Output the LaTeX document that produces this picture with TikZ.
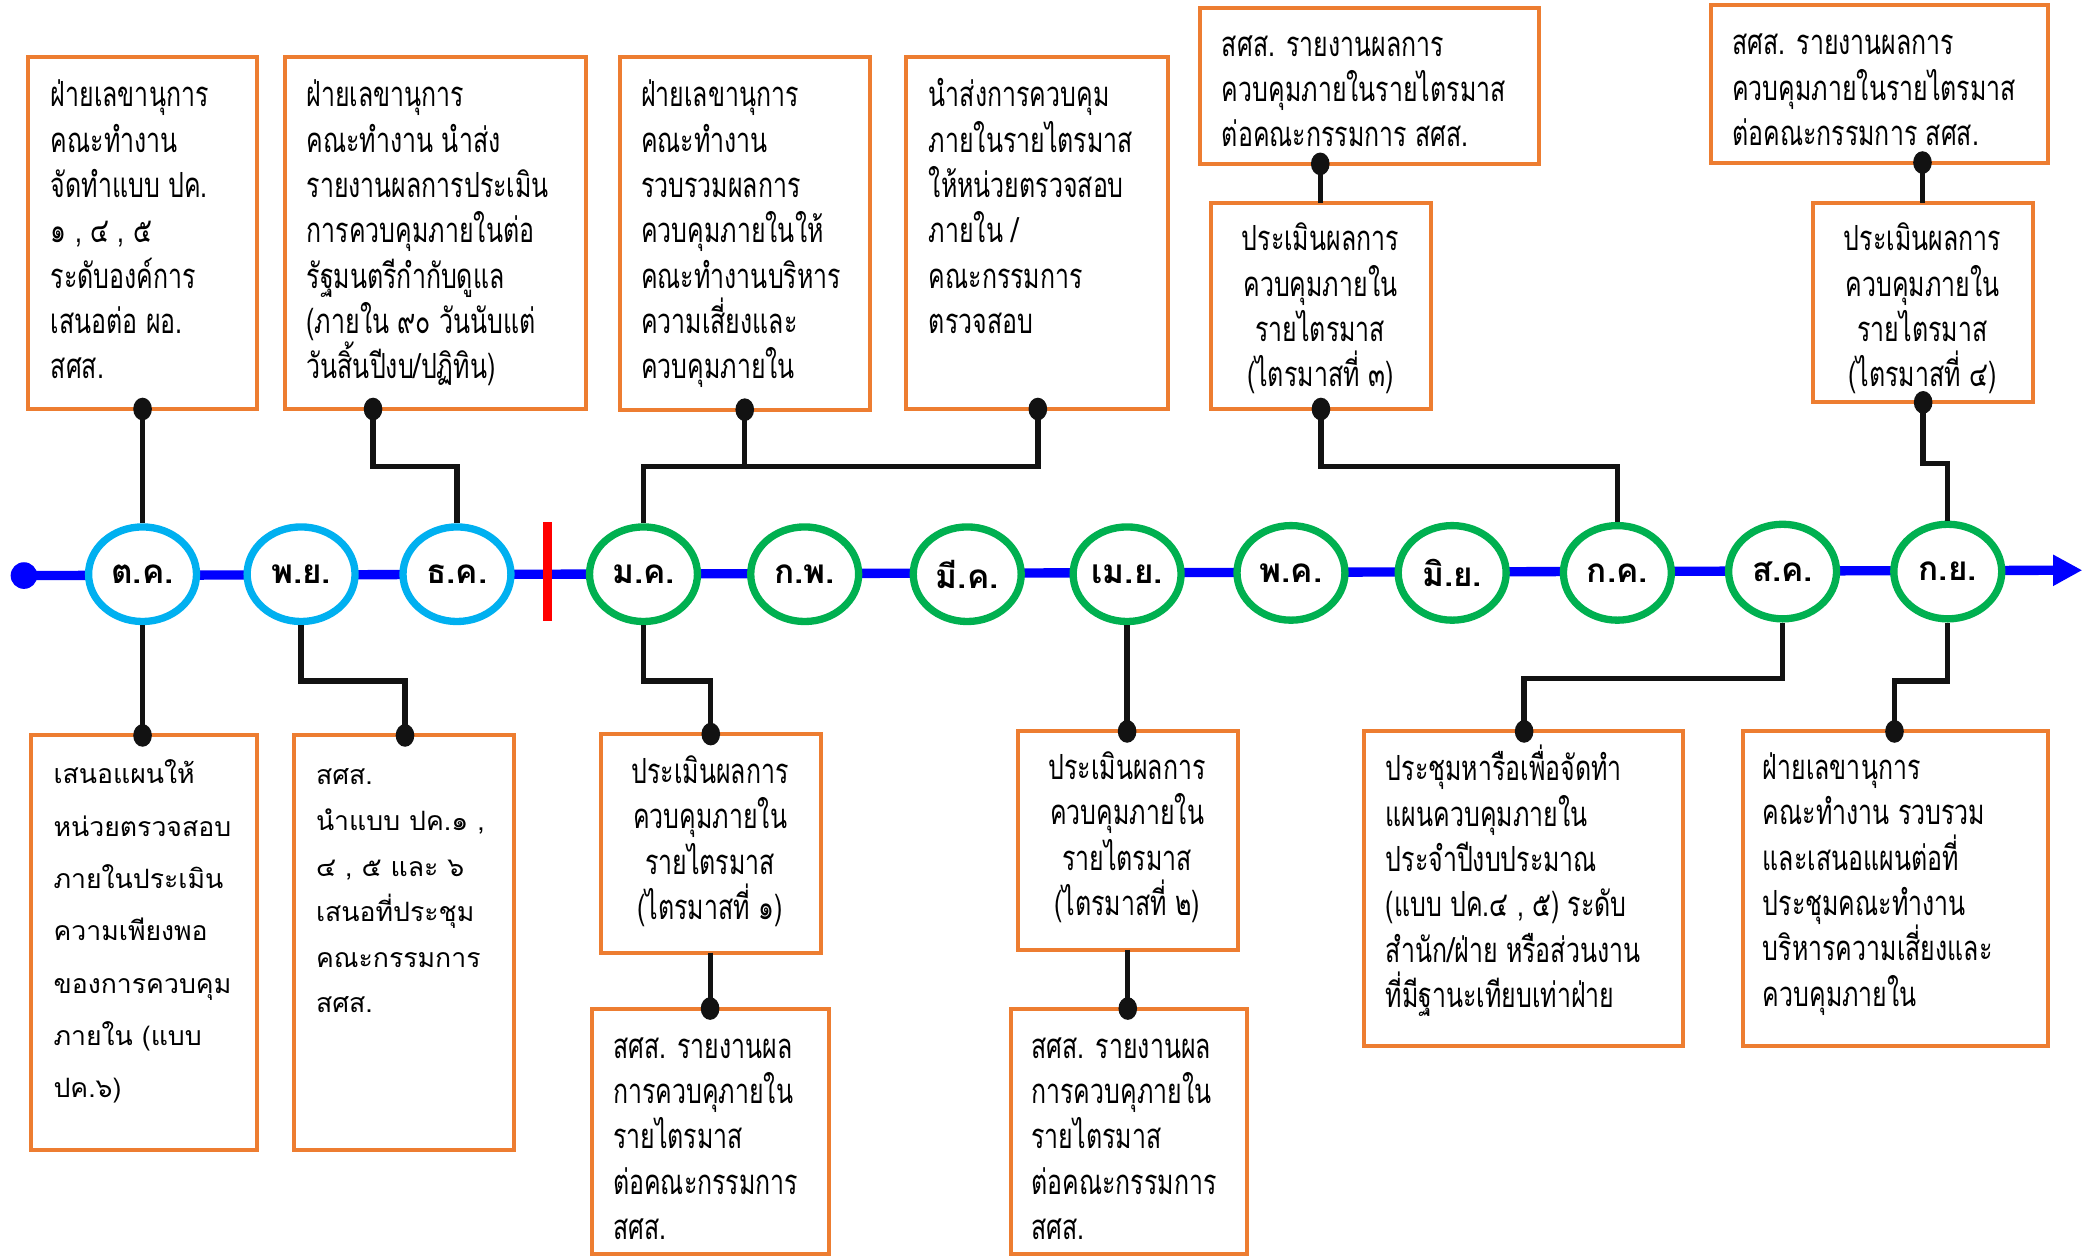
\documentclass[tikz,border=0pt]{standalone}
\usepackage{fontspec}
\usetikzlibrary{arrows.meta,shapes.geometric,calc}
\newfontfamily\thaiN[Script=Thai,FakeStretch=0.72]{Loma}
\newfontfamily\thaiW[Script=Thai]{Loma}
\definecolor{ob}{HTML}{ED7D31}
\definecolor{lb}{HTML}{00B0F0}
\definecolor{gr}{HTML}{00B050}
\definecolor{tl}{HTML}{0000FF}
\definecolor{rb}{HTML}{FF0000}
\newcommand\firststrut{\rule{0pt}{27pt}}
\begin{document}
\begin{tikzpicture}[x=1pt,y=-1pt,
  obox/.style={draw=ob,line width=3pt,fill=white,inner sep=0pt,outer sep=0pt},
  txtN/.style={font=\thaiN\fontsize{26}{34}\selectfont,align=left,anchor=north west,inner sep=0pt},
  txtC/.style={font=\thaiN\fontsize{26}{34}\selectfont,align=center,anchor=north,inner sep=0pt},
  txtW/.style={font=\thaiW\fontsize{20}{34.2}\selectfont,align=left,anchor=north west,inner sep=0pt},
  month/.style={ellipse,fill=white,line width=5.5pt,minimum width=81pt,minimum height=71pt,inner sep=0pt,
     font=\thaiW\bfseries\fontsize{25}{28}\selectfont},
  mb/.style={month,draw=lb},
  mg/.style={month,draw=gr},
  conn/.style={draw=black!93,line width=4pt},
  tline/.style={draw=tl,line width=7pt,-{Triangle[length=22pt,width=22pt]}}
]
\fill[white] (0,0) rectangle (1568,943);
\useasboundingbox (0,0) rectangle (1568,943);

% timeline
\coordinate (tstart) at (18,432);
\coordinate (tend) at (1563,428);
\draw[tline] (tstart) -- (tend);
\fill[tl] (tstart) circle[radius=10pt];
\draw[rb,line width=7pt] (411,392) -- (411,466);

% months
\node[mb] (oct) at (107,431) {ต.ค.};
\node[mb] (nov) at (226,431) {พ.ย.};
\node[mb] (dec) at (343,431) {ธ.ค.};
\node[mg] (jan) at (483,431) {ม.ค.};
\node[mg] (feb) at (604,431) {ก.พ.};
\node[mg] (mar) at (726,431) {มี.ค.};
\node[mg] (apr) at (846,431) {เม.ย.};
\node[mg] (may) at (969,430) {พ.ค.};
\node[mg] (jun) at (1090,430) {มิ.ย.};
\node[mg] (jul) at (1214,430) {ก.ค.};
\node[mg] (aug) at (1338,429) {ส.ค.};
\node[mg] (sep) at (1462,429) {ก.ย.};

% top boxes
\node[obox,minimum width=172pt,minimum height=264pt] (A) at (107,175) {};
\node[obox,minimum width=226pt,minimum height=264pt] (B) at (327,175) {};
\node[obox,minimum width=188pt,minimum height=265pt] (C) at (559,175.5) {};
\node[obox,minimum width=197pt,minimum height=264pt] (D) at (778.5,175) {};
\node[obox,minimum width=254pt,minimum height=117pt] (E) at (1028,64.5) {};
\node[obox,minimum width=165pt,minimum height=155pt] (F) at (991.5,229.5) {};
\node[obox,minimum width=253pt,minimum height=118pt] (G) at (1410.5,63) {};
\node[obox,minimum width=165pt,minimum height=150pt] (H) at (1443.5,227) {};
% bottom boxes
\node[obox,minimum width=170pt,minimum height=311pt] (I) at (108,707.5) {};
\node[obox,minimum width=165pt,minimum height=311pt] (J) at (303.5,707.5) {};
\node[obox,minimum width=165pt,minimum height=164pt] (K) at (533.5,633) {};
\node[obox,minimum width=178pt,minimum height=184pt] (L) at (533,849) {};
\node[obox,minimum width=165pt,minimum height=164pt] (M) at (846.5,631) {};
\node[obox,minimum width=177pt,minimum height=184pt] (N) at (847.5,849) {};
\node[obox,minimum width=239pt,minimum height=236pt] (O) at (1143.5,667) {};
\node[obox,minimum width=229pt,minimum height=236pt] (P) at (1422.5,667) {};

% texts
\node[txtN] (tA) at (38,53) {\firststrut ฝ่ายเลขานุการ\\คณะทำงาน\\จัดทำแบบ ปค.\\๑ , ๔ , ๕\\ระดับองค์การ\\เสนอต่อ ผอ.\\สศส.};
\node[txtN] (tB) at (230,53) {\firststrut ฝ่ายเลขานุการ\\คณะทำงาน นำส่ง\\รายงานผลการประเมิน\\การควบคุมภายในต่อ\\รัฐมนตรีกำกับดูแล\\(ภายใน ๙๐ วันนับแต่\\วันสิ้นปีงบ/ปฏิทิน)};
\node[txtN] (tC) at (481,53) {\firststrut ฝ่ายเลขานุการ\\คณะทำงาน\\รวบรวมผลการ\\ควบคุมภายในให้\\คณะทำงานบริหาร\\ความเสี่ยงและ\\ควบคุมภายใน};
\node[txtN] (tD) at (697,53) {\firststrut นำส่งการควบคุม\\ภายในรายไตรมาส\\ให้หน่วยตรวจสอบ\\ภายใน /\\คณะกรรมการ\\ตรวจสอบ};
\node[txtN] (tE) at (917,15) {\firststrut สศส. รายงานผลการ\\ควบคุมภายในรายไตรมาส\\ต่อคณะกรรมการ สศส.};
\node[txtC] (tF) at (991,161) {\firststrut ประเมินผลการ\\ควบคุมภายใน\\รายไตรมาส\\(ไตรมาสที่ ๓)};
\node[txtN] (tG) at (1300,14) {\firststrut สศส. รายงานผลการ\\ควบคุมภายในรายไตรมาส\\ต่อคณะกรรมการ สศส.};
\node[txtC] (tH) at (1443,161) {\firststrut ประเมินผลการ\\ควบคุมภายใน\\รายไตรมาส\\(ไตรมาสที่ ๔)};
\node[txtW,font=\thaiW\fontsize{20}{39.3}\selectfont] (tI) at (40,561) {\firststrut เสนอแผนให้\\หน่วยตรวจสอบ\\ภายในประเมิน\\ความเพียงพอ\\ของการควบคุม\\ภายใน (แบบ\\ปค.๖)};
\node[txtW] (tJ) at (237,562) {\firststrut สศส.\\นำแบบ ปค.๑ ,\\๔ , ๕ และ ๖\\เสนอที่ประชุม\\คณะกรรมการ\\สศส.};
\node[txtC] (tK) at (533,561) {\firststrut ประเมินผลการ\\ควบคุมภายใน\\รายไตรมาส\\(ไตรมาสที่ ๑)};
\node[txtN] (tL) at (460,767) {\firststrut สศส. รายงานผล\\การควบคุภายใน\\รายไตรมาส\\ต่อคณะกรรมการ\\สศส.};
\node[txtC] (tM) at (846,558) {\firststrut ประเมินผลการ\\ควบคุมภายใน\\รายไตรมาส\\(ไตรมาสที่ ๒)};
\node[txtN] (tN) at (774,767) {\firststrut สศส. รายงานผล\\การควบคุภายใน\\รายไตรมาส\\ต่อคณะกรรมการ\\สศส.};
\node[txtN] (tO) at (1040,559) {\firststrut ประชุมหารือเพื่อจัดทำ\\แผนควบคุมภายใน\\ประจำปีงบประมาณ\\(แบบ ปค.๔ , ๕) ระดับ\\สำนัก/ฝ่าย หรือส่วนงาน\\ที่มีฐานะเทียบเท่าฝ่าย};
\node[txtN] (tP) at (1323,558) {\firststrut ฝ่ายเลขานุการ\\คณะทำงาน รวบรวม\\และเสนอแผนต่อที่\\ประชุมคณะทำงาน\\บริหารความเสี่ยงและ\\ควบคุมภายใน};

% attachment points
\coordinate (bB) at (280,307);
\coordinate (bC) at (559,307.5);
\coordinate (bD) at (779,307);
\coordinate (bE) at (991,123);
\coordinate (bG) at (1443,122);
\coordinate (aJ) at (304,552);
\coordinate (aO) at (1144,549);
\coordinate (aP) at (1422,549);

% connectors
\draw[conn] (A.south) -- (oct.north);
\draw[conn] (bB) -- ++(0,43) -| (dec.north);
\draw[conn] (bD) -- ++(0,43) -| (jan.north);
\draw[conn] (bC) -- ++(0,43);
\draw[conn] (bE) -- (bE |- F.north);
\draw[conn] (F.south) -- ++(0,43) -| (jul.north);
\draw[conn] (bG) -- (bG |- H.north);
\draw[conn] (H.south) -- ++(0,46) -| (sep.north);
\draw[conn] (oct.south) -- (oct.south |- I.north);
\draw[conn] (nov.south) -- ++(0,42) -| (aJ);
\draw[conn] (jan.south) -- ++(0,42) -| (K.north);
\draw[conn] (K.south) -- (K.south |- L.north);
\draw[conn] (apr.south) -- (apr.south |- M.north);
\draw[conn] (M.south) -- (M.south |- N.north);
\draw[conn] (aug.south) -- ++(0,42) -| (aO);
\draw[conn] (sep.south) -- ++(0,44) -| (aP);

% dots
\foreach \p in {A.south,bB,bC,bD,bE,F.south,bG,H.south,aJ,K.north,L.north,aO,aP}
  \fill[black!93] (\p) ellipse[x radius=7pt,y radius=8.5pt];
\fill[black!93] (oct.south |- I.north) ellipse[x radius=7pt,y radius=8.5pt];
\fill[black!93] (apr.south |- M.north) ellipse[x radius=7pt,y radius=8.5pt];
\fill[black!93] (M.south |- N.north) ellipse[x radius=7pt,y radius=8.5pt];
\end{tikzpicture}
\end{document}
